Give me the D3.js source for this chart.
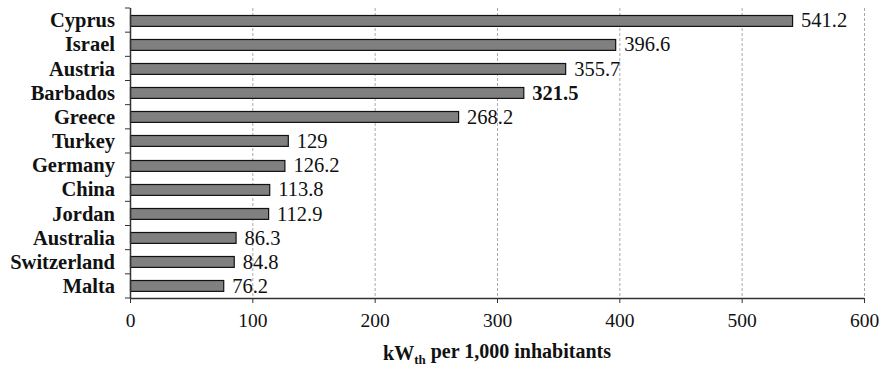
<!DOCTYPE html>
<html>
<head>
<meta charset="utf-8">
<script src="https://cdn.jsdelivr.net/npm/d3@7"></script>
<style>
  body { margin: 0; background: #fff; }
</style>
</head>
<body>
<div id="container"></div>
<script>
const countries = ["Cyprus", "Israel", "Austria", "Barbados", "Greece", "Turkey", "Germany", "China", "Jordan", "Australia", "Switzerland", "Malta"];
const values = [541.2, 396.6, 355.7, 321.5, 268.2, 129, 126.2, 113.8, 112.9, 86.3, 84.8, 76.2];
const valueLabels = ["541.2", "396.6", "355.7", "321.5", "268.2", "129", "126.2", "113.8", "112.9", "86.3", "84.8", "76.2"];
const xTicks = [0, 100, 200, 300, 400, 500, 600];
const highlight = "Barbados";

const serif = "'Liberation Serif', 'Times New Roman', serif";
const totalWidth = 882;
const totalHeight = 367;
const margin = { top: 8, right: 18, bottom: 69, left: 130 };
const width = totalWidth - margin.left - margin.right;
const height = totalHeight - margin.top - margin.bottom;

const data = countries.map((c, i) => ({ country: c, value: values[i], label: valueLabels[i] }));

const x = d3.scaleLinear().domain([0, 600]).range([0, width]);
const y = d3.scaleBand().domain(countries).range([0, height]).paddingInner(0.55).paddingOuter(0.275);

const svg = d3.select("#container")
  .append("svg")
  .attr("width", totalWidth)
  .attr("height", totalHeight)
  .attr("font-family", serif);

const chart = svg.append("g")
  .attr("transform", `translate(${margin.left},${margin.top})`);

// gridlines
chart.selectAll("line.grid")
  .data(xTicks.filter(t => t > 0))
  .enter()
  .append("line")
  .attr("class", "grid")
  .attr("x1", d => x(d) + 0.5)
  .attr("x2", d => x(d) + 0.5)
  .attr("y1", 0)
  .attr("y2", height)
  .attr("stroke", "#aaa")
  .attr("stroke-width", 1)
  .attr("stroke-dasharray", "3,2");

// bars
chart.selectAll("rect.bar")
  .data(data)
  .enter()
  .append("rect")
  .attr("class", "bar")
  .attr("x", 0.5)
  .attr("y", d => Math.round(y(d.country)) + 0.5)
  .attr("width", d => x(d.value))
  .attr("height", y.bandwidth())
  .attr("fill", "#808080")
  .attr("stroke", "#111")
  .attr("stroke-width", 1.2);

// value labels
chart.selectAll("text.val")
  .data(data)
  .enter()
  .append("text")
  .attr("class", "val")
  .attr("x", d => x(d.value) + 9)
  .attr("y", d => y(d.country) + y.bandwidth() / 2)
  .attr("dy", "0.35em")
  .style("font-family", serif)
  .style("font-size", "20.5px")
  .style("font-weight", d => d.country === highlight ? "bold" : "normal")
  .attr("fill", "#111")
  .text(d => d.label);

// x axis
const xAxis = chart.append("g")
  .attr("transform", `translate(0,${height})`)
  .call(d3.axisBottom(x).tickValues(xTicks).tickSize(5).tickSizeOuter(0).tickPadding(10));
xAxis.select(".domain").attr("stroke", "#333").attr("stroke-width", 1.5);
xAxis.selectAll(".tick line").attr("stroke", "#333");
xAxis.selectAll("text")
  .style("font-family", serif)
  .style("font-size", "19.5px")
  .attr("fill", "#111");

// y axis with ticks at category boundaries
const yAxis = chart.append("g");
yAxis.append("line")
  .attr("x1", 0.5).attr("x2", 0.5)
  .attr("y1", 0).attr("y2", height)
  .attr("stroke", "#333").attr("stroke-width", 1.5);
yAxis.selectAll("line.ytick")
  .data(d3.range(countries.length + 1))
  .enter()
  .append("line")
  .attr("class", "ytick")
  .attr("x1", -5).attr("x2", 0)
  .attr("y1", i => i * height / countries.length)
  .attr("y2", i => i * height / countries.length)
  .attr("stroke", "#333");

chart.selectAll("text.cat")
  .data(countries)
  .enter()
  .append("text")
  .attr("class", "cat")
  .attr("x", -15)
  .attr("y", d => y(d) + y.bandwidth() / 2)
  .attr("dy", "0.35em")
  .attr("text-anchor", "end")
  .style("font-family", serif)
  .style("font-size", "20.5px")
  .style("font-weight", "bold")
  .attr("fill", "#111")
  .text(d => d);

// axis title
const title = chart.append("text")
  .attr("x", width / 2)
  .attr("y", height + 62)
  .attr("text-anchor", "middle")
  .style("font-family", serif)
  .style("font-size", "20px")
  .style("font-weight", "bold")
  .attr("fill", "#111");
title.append("tspan").text("kW");
title.append("tspan").attr("dy", "0.3em").style("font-size", "13px").text("th");
title.append("tspan").attr("dy", "-0.3em").text(" per 1,000 inhabitants");
</script>
</body>
</html>
